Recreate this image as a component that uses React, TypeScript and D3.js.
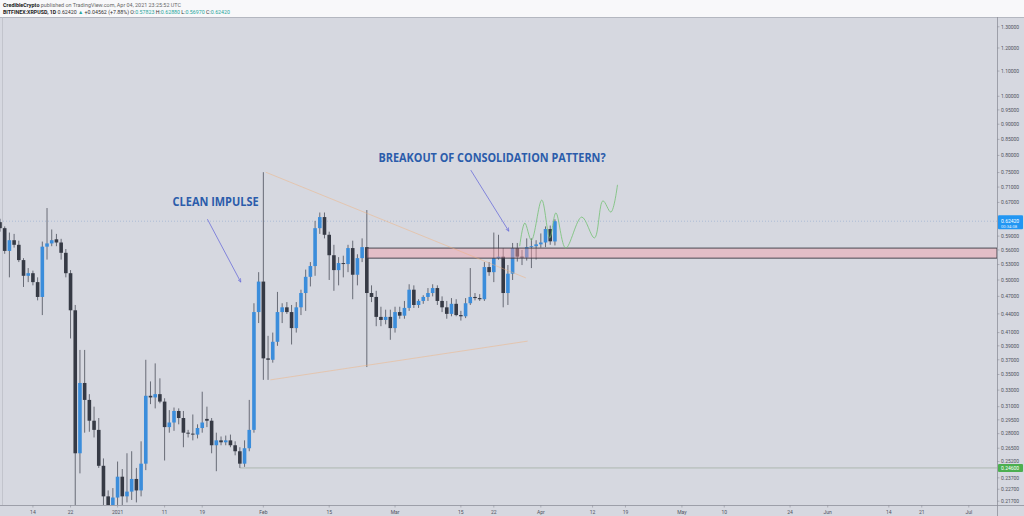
import * as d3 from "d3";

// chart frame
const W = 1024;
const H = 516;
const plot = { left: 0, right: 997, top: 17, bottom: 505 };

// daily bars BITFINEX:XRPUSD, Dec 7 2020 .. Apr 4 2021
const firstDay = new Date(2020, 11, 7);
const jan1 = new Date(2021, 0, 1);

const opens = [
  // Dec 7 - 31
  0.622, 0.608, 0.558, 0.581, 0.571, 0.539, 0.508, 0.513, 0.496, 0.469, 0.567, 0.574, 0.583,
  0.576, 0.554, 0.513, 0.446, 0.26, 0.339, 0.318, 0.294, 0.284, 0.248, 0.221, 0.211,
  // Jan
  0.22, 0.238, 0.221, 0.225, 0.236, 0.226, 0.25, 0.323, 0.321, 0.325, 0.316, 0.287, 0.292,
  0.305, 0.297, 0.281, 0.28, 0.279, 0.286, 0.296, 0.294, 0.268, 0.273, 0.271, 0.273, 0.268,
  0.262, 0.25, 0.265, 0.284, 0.443,
  // Feb
  0.497, 0.372, 0.37, 0.396, 0.443, 0.451, 0.443, 0.417, 0.451, 0.476, 0.506, 0.527, 0.608,
  0.634, 0.593, 0.549, 0.519, 0.533, 0.531, 0.564, 0.51, 0.543, 0.566, 0.476, 0.469, 0.435,
  0.43, 0.435,
  // Mar
  0.417, 0.443, 0.437, 0.45, 0.482, 0.455, 0.462, 0.469, 0.476, 0.485, 0.462, 0.451, 0.44,
  0.457, 0.438, 0.436, 0.458, 0.469, 0.467, 0.465, 0.525, 0.515, 0.543, 0.546, 0.476, 0.512,
  0.564, 0.546, 0.544, 0.566, 0.568,
  // Apr
  0.572, 0.576, 0.606, 0.57823,
];
const highs = [
  0.63, 0.612, 0.598, 0.595, 0.58, 0.543, 0.523, 0.518, 0.505, 0.578, 0.656, 0.605, 0.595,
  0.584, 0.562, 0.519, 0.455, 0.384, 0.384, 0.325, 0.31, 0.297, 0.255, 0.226, 0.228,
  0.252, 0.245, 0.26, 0.262, 0.246, 0.272, 0.37, 0.341, 0.365, 0.345, 0.32, 0.306, 0.309,
  0.308, 0.305, 0.284, 0.301, 0.29, 0.328, 0.31, 0.297, 0.281, 0.277, 0.278, 0.279, 0.272,
  0.266, 0.273, 0.318, 0.458, 0.515,
  0.751, 0.405, 0.41, 0.478, 0.458, 0.46, 0.455, 0.46, 0.482, 0.52, 0.535, 0.625, 0.645,
  0.645, 0.6, 0.571, 0.545, 0.548, 0.571, 0.58, 0.551, 0.585, 0.651, 0.49, 0.48, 0.452,
  0.447, 0.447,
  0.452, 0.452, 0.462, 0.492, 0.49, 0.465, 0.472, 0.485, 0.492, 0.49, 0.47, 0.462, 0.467,
  0.465, 0.445, 0.467, 0.523, 0.476, 0.474, 0.535, 0.535, 0.598, 0.593, 0.564, 0.529, 0.575,
  0.575, 0.56, 0.585, 0.585, 0.581,
  0.596, 0.612, 0.614, 0.6288,
];
const lows = [
  0.6, 0.552, 0.505, 0.565, 0.535, 0.487, 0.496, 0.49, 0.463, 0.438, 0.54, 0.568, 0.568,
  0.54, 0.505, 0.401, 0.205, 0.241, 0.281, 0.282, 0.276, 0.246, 0.185, 0.175, 0.195,
  0.21, 0.205, 0.216, 0.218, 0.216, 0.221, 0.244, 0.313, 0.308, 0.314, 0.253, 0.281, 0.283,
  0.29, 0.266, 0.276, 0.273, 0.275, 0.281, 0.287, 0.26, 0.243, 0.268, 0.268, 0.266, 0.258,
  0.246, 0.247, 0.262, 0.281, 0.425,
  0.343, 0.343, 0.366, 0.39, 0.425, 0.44, 0.392, 0.41, 0.438, 0.445, 0.488, 0.508, 0.595,
  0.585, 0.5, 0.48, 0.49, 0.505, 0.515, 0.465, 0.49, 0.535, 0.36, 0.46, 0.42, 0.42,
  0.423, 0.399,
  0.41, 0.432, 0.432, 0.445, 0.45, 0.45, 0.457, 0.462, 0.47, 0.455, 0.443, 0.432, 0.436,
  0.436, 0.429, 0.433, 0.455, 0.463, 0.462, 0.462, 0.508, 0.496, 0.54, 0.451, 0.455, 0.5,
  0.536, 0.529, 0.538, 0.523, 0.54,
  0.565, 0.566, 0.571, 0.5697,
];
const closes = [
  0.608, 0.558, 0.581, 0.571, 0.539, 0.508, 0.513, 0.496, 0.469, 0.567, 0.574, 0.581, 0.576,
  0.554, 0.513, 0.446, 0.26, 0.339, 0.318, 0.294, 0.284, 0.248, 0.221, 0.211, 0.22,
  0.238, 0.221, 0.225, 0.236, 0.226, 0.25, 0.323, 0.321, 0.325, 0.316, 0.287, 0.292, 0.305,
  0.297, 0.281, 0.28, 0.279, 0.286, 0.292, 0.294, 0.268, 0.273, 0.271, 0.273, 0.268, 0.262,
  0.25, 0.265, 0.284, 0.443, 0.497,
  0.372, 0.37, 0.396, 0.443, 0.451, 0.443, 0.417, 0.451, 0.476, 0.506, 0.527, 0.608, 0.634,
  0.593, 0.549, 0.519, 0.533, 0.531, 0.564, 0.51, 0.543, 0.566, 0.476, 0.469, 0.435, 0.43,
  0.435, 0.417,
  0.443, 0.437, 0.45, 0.482, 0.455, 0.462, 0.469, 0.476, 0.485, 0.462, 0.451, 0.44, 0.457,
  0.438, 0.436, 0.458, 0.469, 0.467, 0.465, 0.525, 0.515, 0.543, 0.546, 0.476, 0.512, 0.564,
  0.546, 0.544, 0.566, 0.568, 0.572,
  0.576, 0.606, 0.57858, 0.6242,
];

// price axis labels (log scale)
const priceTicks = [
  1.3, 1.2, 1.1, 1.0, 0.95, 0.9, 0.85, 0.8, 0.75, 0.71, 0.67, 0.59, 0.56, 0.53, 0.5, 0.47,
  0.44, 0.41, 0.39, 0.37, 0.35, 0.33, 0.31, 0.295, 0.28, 0.265, 0.252, 0.237, 0.227, 0.217,
];

// time axis labels
const timeTicks: [Date, string][] = [
  [new Date(2020, 11, 14), "14"],
  [new Date(2020, 11, 22), "22"],
  [new Date(2021, 0, 1), "2021"],
  [new Date(2021, 0, 11), "11"],
  [new Date(2021, 0, 19), "19"],
  [new Date(2021, 1, 1), "Feb"],
  [new Date(2021, 1, 15), "15"],
  [new Date(2021, 2, 1), "Mar"],
  [new Date(2021, 2, 15), "15"],
  [new Date(2021, 2, 22), "22"],
  [new Date(2021, 3, 1), "Apr"],
  [new Date(2021, 3, 12), "12"],
  [new Date(2021, 3, 19), "19"],
  [new Date(2021, 4, 1), "May"],
  [new Date(2021, 4, 10), "10"],
  [new Date(2021, 4, 24), "24"],
  [new Date(2021, 5, 1), "Jun"],
  [new Date(2021, 5, 14), "14"],
  [new Date(2021, 5, 21), "21"],
  [new Date(2021, 6, 1), "Jul"],
];

const lastPrice = 0.6242;
const supportPrice = 0.246;
const zone = { from: 53, top: 0.564, bottom: 0.543 };

// drawings, [days after Jan 1, price]
const upperTrend: [number, number][] = [[31.5, 0.751], [86.8, 0.504]];
const lowerTrend: [number, number][] = [[32.5, 0.343], [87.2, 0.397]];
const arrowImpulse: [number, number][] = [[19.1, 0.629], [26.2, 0.496]];
const arrowBreakout: [number, number][] = [[75.1, 0.757], [83.2, 0.601]];
const projection: [number, number][] = [
  [85.5, 0.568], [86.6, 0.62], [88.0, 0.581], [90.2, 0.676], [91.9, 0.586], [93.2, 0.644],
  [95.3, 0.564], [98.7, 0.634], [101.4, 0.586], [103.2, 0.674], [104.9, 0.646], [106.3, 0.716],
];
const labelImpulse = { t: 11.7, p: 0.661, text: "CLEAN IMPULSE", len: 86 };
const labelBreakout = { t: 55.5, p: 0.78, text: "BREAKOUT OF CONSOLIDATION PATTERN?", len: 227 };

const UP = "#3b8ddb";
const DOWN = "#363a45";
const WICK = "#4b4f5a";
const AXIS_TXT = "#50535e";

const fmt = (v: number) => v.toFixed(5);

export default function App() {
  const x = d3
    .scaleTime()
    .domain([firstDay, new Date(2021, 6, 7)])
    .range([plot.left, plot.right]);
  const y = d3.scaleLog().domain([0.2139, 1.3489]).range([plot.bottom, plot.top]);

  const bars = opens.map((o, i) => ({
    date: d3.timeDay.offset(firstDay, i),
    o,
    h: highs[i],
    l: lows[i],
    c: closes[i],
  }));
  const bodyW = 3.6;

  const at = (t: number) => new Date(jan1.getTime() + t * 864e5);
  const px = (pt: [number, number]) => [x(at(pt[0])), y(pt[1])] as [number, number];
  const seg = (pts: [number, number][]) => {
    const [a, b] = pts.map(px);
    return { x1: a[0], y1: a[1], x2: b[0], y2: b[1] };
  };

  const projLine = d3
    .line<[number, number]>()
    .x((d) => px(d)[0])
    .y((d) => px(d)[1])
    .curve(d3.curveCatmullRom.alpha(0.5));

  const up = seg(upperTrend);
  const lo = seg(lowerTrend);
  const a1 = seg(arrowImpulse);
  const a2 = seg(arrowBreakout);
  const yLast = y(lastPrice);
  const ySup = y(supportPrice);

  return (
    <>
      <style>{`body{margin:0;background:#fff}`}</style>
      <svg width={W} height={H} style={{ display: "block" }} fontFamily="Roboto, 'Liberation Sans', sans-serif">
        <defs>
          <clipPath id="plotClip">
            <rect x={plot.left} y={plot.top} width={plot.right - plot.left} height={plot.bottom - plot.top} />
          </clipPath>
          <marker id="arrowHead" viewBox="0 0 10 10" refX="9" refY="5" markerWidth="5" markerHeight="5" orient="auto">
            <path d="M0,1 L9,5 L0,9" fill="none" stroke="#6c6fd9" strokeWidth="1.6" />
          </marker>
        </defs>

        {/* header */}
        <rect x={0} y={0} width={W} height={plot.top} fill="#f8f8fa" />
        <text x={3} y={7} fontSize={5.4} fill="#666" textLength={178} lengthAdjust="spacingAndGlyphs">
          <tspan fontWeight={700} fill="#222">CredibleCrypto</tspan>
          <tspan> published on TradingView.com, Apr 04, 2021 23:25:52 UTC</tspan>
        </text>
        <text x={3} y={13.5} fontSize={5.4} fill="#333" textLength={227} lengthAdjust="spacingAndGlyphs">
          <tspan fontWeight={700} fill="#222">BITFINEX:XRPUSD, 1D</tspan>
          <tspan> 0.62420 </tspan>
          <tspan fill="#26a69a">▲</tspan>
          <tspan> +0.04562 (+7.88%) O:</tspan>
          <tspan fill="#26a69a">0.57823</tspan>
          <tspan> H:</tspan>
          <tspan fill="#26a69a">0.62880</tspan>
          <tspan> L:</tspan>
          <tspan fill="#26a69a">0.56970</tspan>
          <tspan> C:</tspan>
          <tspan fill="#26a69a">0.62420</tspan>
        </text>

        {/* chart background */}
        <rect x={0} y={plot.top} width={W} height={H - plot.top} fill="#d6d8e0" />
        <line x1={0} x2={W} y1={plot.top + 0.5} y2={plot.top + 0.5} stroke="#b4b7c0" />
        <line x1={2.5} x2={2.5} y1={plot.top} y2={plot.bottom} stroke="#bcbfc7" strokeWidth={0.8} />

        <g clipPath="url(#plotClip)">
          {/* last price line */}
          <line x1={plot.left} x2={plot.right} y1={yLast} y2={yLast} stroke="#9aafd3" strokeWidth={0.7} strokeDasharray="1 2" />
          {/* support ray */}
          <line x1={x(at(26))} x2={plot.right} y1={ySup} y2={ySup} stroke="#9cab9c" strokeWidth={0.7} />

          {/* candles */}
          {bars.map((b, i) => {
            const cx = x(b.date);
            const isUp = b.c >= b.o;
            const top = y(Math.max(b.o, b.c));
            const bot = y(Math.min(b.o, b.c));
            return (
              <g key={i}>
                <line x1={cx} x2={cx} y1={y(b.h)} y2={y(b.l)} stroke={WICK} strokeWidth={0.8} />
                <rect
                  x={cx - bodyW / 2}
                  y={top}
                  width={bodyW}
                  height={Math.max(0.8, bot - top)}
                  fill={isUp ? UP : DOWN}
                />
              </g>
            );
          })}

          {/* consolidation zone */}
          <rect
            x={x(at(zone.from))}
            y={y(zone.top)}
            width={plot.right - x(at(zone.from))}
            height={y(zone.bottom) - y(zone.top)}
            fill="#f3a0a8"
            fillOpacity={0.45}
            stroke="#3a3a44"
            strokeWidth={0.9}
          />

          {/* triangle */}
          <line {...up} stroke="#f2b27a" strokeWidth={0.8} strokeOpacity={0.6} />
          <line {...lo} stroke="#f2b27a" strokeWidth={0.8} strokeOpacity={0.6} />

          {/* projected path */}
          <path d={projLine(projection) ?? ""} fill="none" stroke="#74c074" strokeWidth={0.8} />

          {/* arrows */}
          <line {...a1} stroke="#6c6fd9" strokeWidth={0.8} markerEnd="url(#arrowHead)" />
          <line {...a2} stroke="#6c6fd9" strokeWidth={0.8} markerEnd="url(#arrowHead)" />

          {/* labels */}
          {[labelImpulse, labelBreakout].map((lb) => (
            <text
              key={lb.text}
              x={x(at(lb.t))}
              y={y(lb.p)}
              fontFamily="'Open Sans', sans-serif"
              fontWeight={700}
              fontSize={12}
              fill="#2b5cab"
              textLength={lb.len}
              lengthAdjust="spacingAndGlyphs"
            >
              {lb.text}
            </text>
          ))}
        </g>

        {/* time axis */}
        <line x1={0} x2={W} y1={plot.bottom + 0.5} y2={plot.bottom + 0.5} stroke="#8e919a" strokeWidth={0.8} />
        {timeTicks.map(([d, label]) => (
          <g key={label + d.getTime()} transform={`translate(${x(d)},${plot.bottom})`}>
            <line y1={0} y2={2.5} stroke="#8e919a" strokeWidth={0.6} />
            <text y={8.5} textAnchor="middle" fontSize={5} fill={AXIS_TXT}>
              {label}
            </text>
          </g>
        ))}

        {/* price axis */}
        <line x1={plot.right + 0.5} x2={plot.right + 0.5} y1={plot.top} y2={H} stroke="#8e919a" strokeWidth={0.8} />
        {priceTicks.map((v) => (
          <g key={v} transform={`translate(${plot.right},${y(v)})`}>
            <line x1={0} x2={2.5} stroke="#8e919a" strokeWidth={0.6} />
            <text x={4} dy="0.35em" fontSize={5} fill={AXIS_TXT}>
              {fmt(v)}
            </text>
          </g>
        ))}

        {/* last price badge */}
        <rect x={plot.right + 1} y={yLast - 6} width={25} height={14} rx={1} fill="#2196f3" />
        <text x={plot.right + 4} y={yLast} dy="0.35em" fontSize={5} fill="#fff">
          {fmt(lastPrice)}
        </text>
        <text x={plot.right + 4} y={yLast + 5.5} dy="0.35em" fontSize={4.2} fill="#e3f0ff">
          00:34:08
        </text>

        {/* support badge */}
        <rect x={plot.right + 1} y={ySup - 4} width={25} height={8} rx={1} fill="#4caf50" />
        <text x={plot.right + 4} y={ySup} dy="0.35em" fontSize={5} fill="#fff">
          {fmt(supportPrice)}
        </text>

        {/* bottom-right corner */}
        <rect x={plot.right + 1} y={plot.bottom + 1} width={W - plot.right - 1} height={H - plot.bottom - 1} fill="#d6d8e0" />
      </svg>
    </>
  );
}
